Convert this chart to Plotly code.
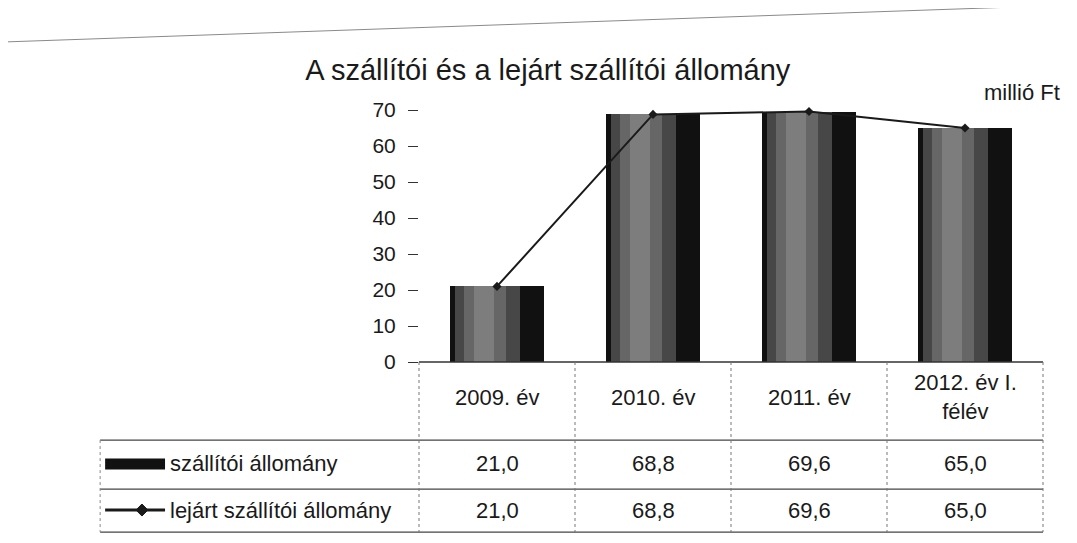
import plotly.graph_objects as go

categories = ["2009. év", "2010. év", "2011. év", "2012. év I.<br>félév"]
szallitoi = [21.0, 68.8, 69.6, 65.0]
lejart = [21.0, 68.8, 69.6, 65.0]
series_names = ["szállítói állomány", "lejárt szállítói állomány"]
y_ticks = [0, 10, 20, 30, 40, 50, 60, 70]

FONT = "Liberation Sans, Arial, sans-serif"
INK = "#1a1a1a"


def fmt(v):
    return f"{v:.1f}".replace(".", ",")


def label(x, y, text, xref="x", xanchor="center", size=22):
    return dict(x=x, y=y, xref=xref, yref="paper", xanchor=xanchor, yanchor="middle",
                text=text, showarrow=False, font=dict(family=FONT, size=size, color=INK))


fig = go.Figure()

# layered bars to mimic the cylinder-like shading of the scan
bar_layers = [
    (-0.30, 0.60, "#111111"),
    (-0.27, 0.42, "#474747"),
    (-0.21, 0.27, "#666666"),
    (-0.15, 0.13, "#7d7d7d"),
]
for offset, width, color in bar_layers:
    fig.add_trace(go.Bar(
        x=categories, y=szallitoi, width=width, offset=offset,
        marker=dict(color=color, line=dict(width=0)),
        showlegend=False, hoverinfo="skip",
    ))

fig.add_trace(go.Scatter(
    x=categories, y=lejart, mode="lines+markers",
    line=dict(color=INK, width=2),
    marker=dict(symbol="diamond", size=7, color=INK),
    showlegend=False,
))

shapes = []
annotations = []

# table grid (paper coordinates relative to plot area)
header_bottom, row1_bottom, table_bottom = -0.298, -0.485, -0.649
left = -0.511
shapes.append(dict(type="line", xref="paper", yref="paper", x0=0, x1=1, y0=0, y1=0,
                   line=dict(color="#333333", width=1.5)))
for y in (header_bottom, row1_bottom, table_bottom):
    shapes.append(dict(type="line", xref="paper", yref="paper", x0=left, x1=1, y0=y, y1=y,
                       line=dict(color="#444444", width=1.3)))
shapes.append(dict(type="line", xref="paper", yref="paper", x0=left, x1=left,
                   y0=header_bottom, y1=table_bottom,
                   line=dict(color="#888888", width=1, dash="dot")))
for i in range(len(categories) + 1):
    x = i / len(categories)
    shapes.append(dict(type="line", xref="paper", yref="paper", x0=x, x1=x, y0=0.0,
                       y1=table_bottom, line=dict(color="#777777", width=1, dash="dot")))

# category header and values
for cat, a, b in zip(categories, szallitoi, lejart):
    annotations.append(label(cat, -0.134, cat))
    annotations.append(label(cat, -0.389, fmt(a)))
    annotations.append(label(cat, -0.565, fmt(b)))

# legend keys in the table's first column
shapes.append(dict(type="rect", xref="paper", yref="paper", x0=-0.503, x1=-0.407,
                   y0=-0.410, y1=-0.368, fillcolor="#111111", line=dict(width=0)))
shapes.append(dict(type="line", xref="paper", yref="paper", x0=-0.503, x1=-0.407,
                   y0=-0.565, y1=-0.565, line=dict(color=INK, width=3)))
shapes.append(dict(type="path", xref="paper", yref="paper",
                   path="M -0.4536 -0.565 L -0.444 -0.542 L -0.4344 -0.565 L -0.444 -0.588 Z",
                   fillcolor=INK, line=dict(color=INK, width=1)))
annotations.append(label(-0.402, -0.389, series_names[0], xref="paper", xanchor="left"))
annotations.append(label(-0.402, -0.565, series_names[1], xref="paper", xanchor="left"))

# unit label
annotations.append(label(1.030, 1.030, "millió Ft", xref="paper", xanchor="right"))

# scan frame line across the top
shapes.append(dict(type="line", xref="paper", yref="paper", x0=-0.671, x1=1.053,
                   y0=1.221, y1=1.363, line=dict(color="#8a8a8a", width=1)))

fig.update_layout(
    width=1069, height=535,
    margin=dict(l=411, r=34, t=92, b=181),
    paper_bgcolor="white", plot_bgcolor="white",
    barmode="overlay", bargap=0,
    title=dict(text="A szállítói és a lejárt szállítói állomány", x=0.278, xanchor="left",
               y=0.884, yanchor="middle",
               font=dict(family=FONT, size=29, color=INK)),
    shapes=shapes, annotations=annotations,
    showlegend=False,
)
fig.update_xaxes(showticklabels=False, showline=False, showgrid=False, zeroline=False,
                 ticks="")
fig.update_yaxes(range=[0, 72.8], tickvals=y_ticks, showgrid=False, zeroline=False,
                 showline=False, ticks="outside", ticklen=10, tickcolor="#333333",
                 tickfont=dict(family=FONT, size=21, color=INK), ticklabelstandoff=8)

fig.write_html("out.html")
